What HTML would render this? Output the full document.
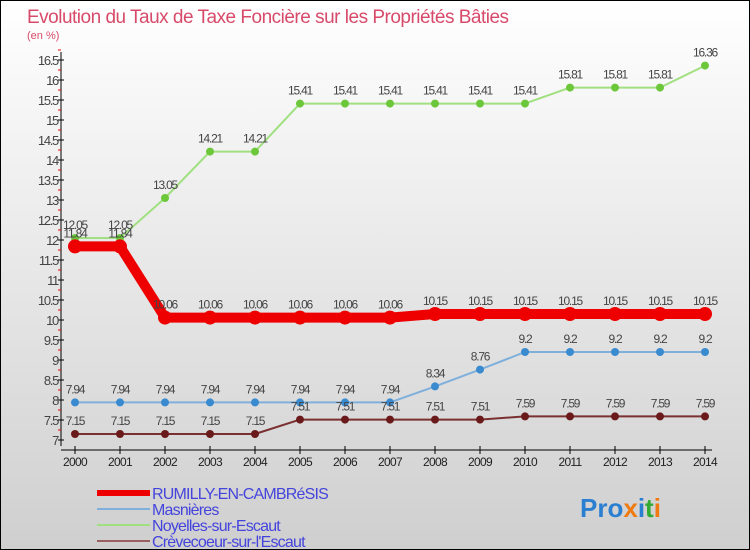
<!DOCTYPE html>
<html><head><meta charset="utf-8"><style>
body{margin:0}
#c{width:750px;height:550px;position:relative;overflow:hidden;background:linear-gradient(#ffffff,#cfcfcf);font-family:"Liberation Sans",sans-serif;box-sizing:border-box;border:1px solid #000}
</style></head><body>
<div id="c">
<svg id="s" width="750" height="550" style="position:absolute;left:-1px;top:-1px">
<text x="27" y="23" font-size="19" fill="#d84a6a" letter-spacing="-0.5">Evolution du Taux de Taxe Foncière sur les Propriétés Bâties</text>
<text x="27" y="39" font-size="11" fill="#d84a6a">(en %)</text>
<g id="axes"></g><g id="series"></g><g id="legend"></g>
<text x="580" y="517" font-size="26" font-weight="bold"><tspan fill="#2a7fd0">Pro</tspan><tspan fill="#ee7a10">x</tspan><tspan fill="#2a7fd0">i</tspan><tspan fill="#33aa33">t</tspan><tspan fill="#ee7a10">i</tspan></text>
</svg>
</div>
<script>
const years=[2000,2001,2002,2003,2004,2005,2006,2007,2008,2009,2010,2011,2012,2013,2014];
const rumilly=[11.84,11.84,10.06,10.06,10.06,10.06,10.06,10.06,10.15,10.15,10.15,10.15,10.15,10.15,10.15];
const masnieres=[7.94,7.94,7.94,7.94,7.94,7.94,7.94,7.94,8.34,8.76,9.2,9.2,9.2,9.2,9.2];
const noyelles=[12.05,12.05,13.05,14.21,14.21,15.41,15.41,15.41,15.41,15.41,15.41,15.81,15.81,15.81,16.36];
const crevecoeur=[7.15,7.15,7.15,7.15,7.15,7.51,7.51,7.51,7.51,7.51,7.59,7.59,7.59,7.59,7.59];
const yTicks=[7,7.5,8,8.5,9,9.5,10,10.5,11,11.5,12,12.5,13,13.5,14,14.5,15,15.5,16,16.5];
const NS='http://www.w3.org/2000/svg';
const X=i=>75+i*45, Y=v=>440-(v-7)*40;
function mk(t,a,p){const e=document.createElementNS(NS,t);for(const k in a)e.setAttribute(k,a[k]);p.appendChild(e);return e;}
const ax=document.getElementById('axes');
let l=mk('line',{x1:61,y1:52,x2:61,y2:446,stroke:'#000'},ax);

l=mk('line',{x1:61,y1:450,x2:712,y2:450,stroke:'#000'},ax);

yTicks.forEach(v=>{
 mk('line',{x1:58,y1:Y(v),x2:64,y2:Y(v),stroke:'#000'},ax);
 mk('line',{x1:58,y1:Y(v+0.25),x2:61,y2:Y(v+0.25),stroke:'#e00'},ax);
 const t=mk('text',{x:58,y:Y(v)+5,'font-size':13,fill:'#444','text-anchor':'end','letter-spacing':'-1.3'},ax);t.textContent=v;
 
});
years.forEach((y,i)=>{
 mk('line',{x1:X(i),y1:446,x2:X(i),y2:454,stroke:'#000'},ax);
 const t=mk('text',{x:X(i),y:466,'font-size':12,fill:'#222','text-anchor':'middle','letter-spacing':'-0.7'},ax);t.textContent=y;
 
});
const sg=document.getElementById('series');
function series(d,name,col,dot,w,r,lab){
 const g=mk('g',{},sg);
 const p=mk('polyline',{points:d.map((v,i)=>X(i)+','+Y(v)).join(' '),fill:'none',stroke:col,'stroke-width':w,'stroke-linejoin':'round'},g);
 
 d.forEach((v,i)=>{const c=mk('circle',{cx:X(i),cy:Y(v),r:r,fill:dot},g);
  
  const t=mk('text',{x:X(i),y:Y(v)-lab,'font-size':12,fill:'#444','text-anchor':'middle','letter-spacing':'-1.2'},g);t.textContent=v;
  });
}
series(masnieres,'masnieres','#7fb0dc','#3a8ad0',2,4,9);
series(noyelles,'noyelles','#a0e080','#6cc83a',2,4,9);
series(crevecoeur,'crevecoeur','#7a3030','#6a1a1a',2,4,9);
series(rumilly,'rumilly','#ee0000','#ee0000',10,7,9);
const lg=document.getElementById('legend');
[['RUMILLY-EN-CAMBRéSIS','#ee0000',6],['Masnières','#7fb0dc',2],['Noyelles-sur-Escaut','#a0e080',2],['Crèvecoeur-sur-l\'Escaut','#9a6060',2]].forEach((e,i)=>{
 const y=493+i*16;
 const g=mk('g',{},lg);
 mk('line',{x1:97,y1:y,x2:150,y2:y,stroke:e[1],'stroke-width':e[2]},g);
 const t=mk('text',{x:152,y:y+6,'font-size':16,fill:'#4444dd','letter-spacing':'-0.8'},g);t.textContent=e[0];
});
</script>
</body></html>
